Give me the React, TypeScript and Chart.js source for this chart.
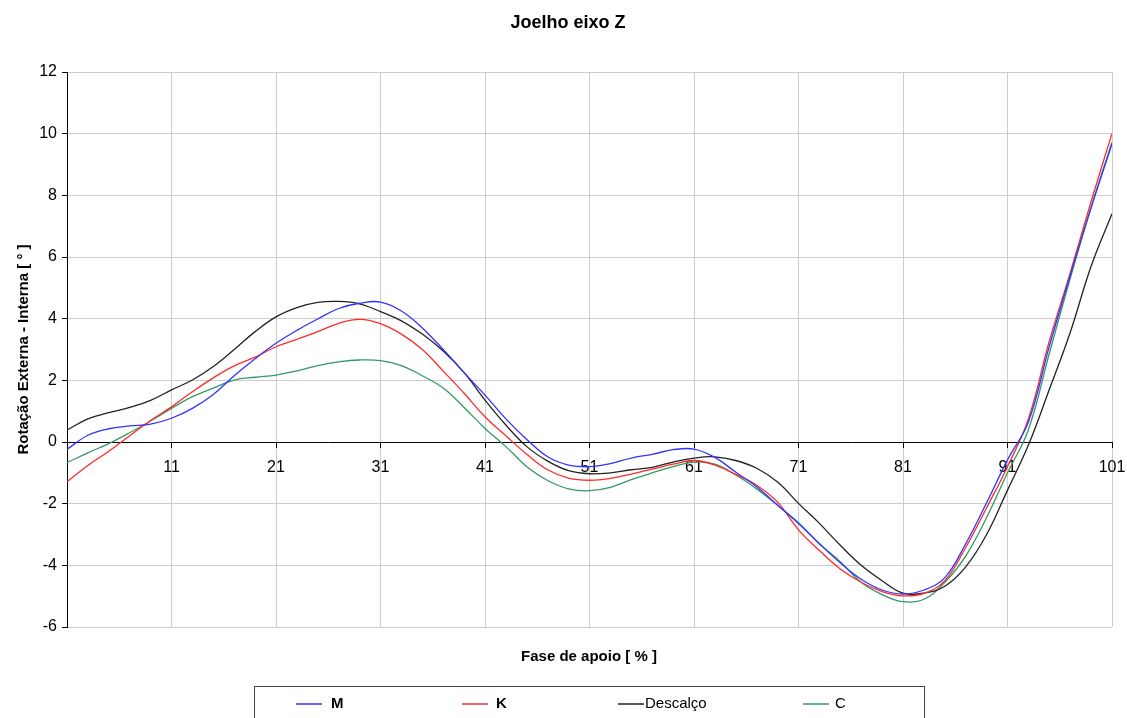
import React, { useEffect, useRef } from "react";
import { Chart, registerables } from "chart.js";

Chart.register(...registerables);

const xs = [1, 3, 5, 7, 9, 11, 13, 15, 17, 19, 21, 23, 25, 27, 29, 31, 33, 35, 37, 39, 41, 43, 45, 47, 49, 51, 53, 55, 57, 59, 61, 63, 65, 67, 69, 71, 73, 75, 77, 79, 81, 83, 85, 87, 89, 91, 93, 95, 97, 99, 101];

const seriesM = [-0.24, 0.22, 0.43, 0.52, 0.58, 0.77, 1.09, 1.54, 2.15, 2.7, 3.2, 3.62, 3.99, 4.33, 4.5, 4.54, 4.25, 3.7, 3.0, 2.25, 1.52, 0.75, 0.08, -0.48, -0.75, -0.8, -0.7, -0.52, -0.4, -0.25, -0.23, -0.5, -0.98, -1.45, -2.05, -2.64, -3.3, -3.92, -4.45, -4.8, -4.93, -4.8, -4.4, -3.3, -1.97, -0.58, 0.65, 3.1, 5.4, 7.6, 9.67];

const seriesK = [-1.29, -0.76, -0.3, 0.2, 0.7, 1.14, 1.63, 2.08, 2.47, 2.75, 3.09, 3.33, 3.58, 3.85, 3.98, 3.84, 3.5, 3.0, 2.3, 1.58, 0.82, 0.2, -0.4, -0.9, -1.17, -1.24, -1.18, -1.04, -0.88, -0.72, -0.6, -0.75, -1.05, -1.4, -1.95, -2.85, -3.52, -4.12, -4.55, -4.85, -4.99, -4.91, -4.5, -3.42, -2.13, -0.8, 0.75, 3.27, 5.48, 7.8, 10.0];

const seriesDescalco = [0.39, 0.75, 0.95, 1.12, 1.35, 1.69, 2.01, 2.45, 3.0, 3.58, 4.06, 4.36, 4.53, 4.56, 4.48, 4.23, 3.93, 3.5, 2.95, 2.25, 1.36, 0.55, -0.15, -0.62, -0.93, -1.03, -1.0, -0.9, -0.82, -0.65, -0.52, -0.48, -0.6, -0.85, -1.3, -1.99, -2.64, -3.35, -4.0, -4.5, -4.9, -4.9, -4.68, -4.05, -3.0, -1.56, -0.1, 1.7, 3.55, 5.7, 7.4];

const seriesC = [-0.67, -0.35, -0.05, 0.3, 0.68, 1.09, 1.47, 1.75, 2.01, 2.1, 2.17, 2.31, 2.48, 2.6, 2.66, 2.64, 2.48, 2.15, 1.75, 1.12, 0.44, -0.15, -0.8, -1.25, -1.52, -1.58, -1.47, -1.22, -1.0, -0.8, -0.65, -0.72, -1.07, -1.52, -2.05, -2.62, -3.3, -3.88, -4.55, -4.95, -5.18, -5.1, -4.55, -3.7, -2.45, -1.0, 0.4, 2.87, 5.3, 7.6, 9.72];

const seriesNames = ["M", "K", "Descalço", "C"];
const seriesColors = ["#3333ff", "#ff2a2a", "#222222", "#339966"];
const seriesValues = [seriesM, seriesK, seriesDescalco, seriesC];

const chartTitle = "Joelho eixo Z";
const xTitle = "Fase de apoio [ % ]";
const yTitle = "Rotação Externa - Interna [ ° ]";

const FONT = "'Liberation Sans', Arial, sans-serif";

const decorPlugin = {
  id: "decor",
  afterDraw(chart: any) {
    const ctx = chart.ctx as CanvasRenderingContext2D;
    const area = chart.chartArea;
    ctx.save();
    ctx.fillStyle = "#000";
    ctx.textAlign = "center";
    ctx.textBaseline = "middle";
    ctx.font = `bold 18px ${FONT}`;
    ctx.fillText(chartTitle, 568, 23);
    ctx.font = `bold 15px ${FONT}`;
    ctx.fillText(xTitle, 589, 657);
    ctx.save();
    ctx.translate(24, (area.top + area.bottom) / 2);
    ctx.rotate(-Math.PI / 2);
    ctx.fillText(yTitle, 0, 0);
    ctx.restore();

    // legend box
    ctx.strokeStyle = "#444";
    ctx.lineWidth = 1;
    ctx.strokeRect(254.5, 686.5, 670, 40);
    const entries = [
      { lx: 296, tx: 331, bold: true },
      { lx: 462, tx: 496, bold: true },
      { lx: 618, tx: 645, bold: false },
      { lx: 803, tx: 835, bold: false },
    ];
    entries.forEach((e, i) => {
      ctx.strokeStyle = seriesColors[i];
      ctx.lineWidth = 1.5;
      ctx.beginPath();
      ctx.moveTo(e.lx, 704);
      ctx.lineTo(e.lx + 26, 704);
      ctx.stroke();
      ctx.fillStyle = "#000";
      ctx.textAlign = "left";
      ctx.font = `${e.bold ? "bold " : ""}15px ${FONT}`;
      ctx.fillText(seriesNames[i], e.tx, 704);
    });
    ctx.restore();
  },
};

export default function App() {
  const canvasRef = useRef<HTMLCanvasElement | null>(null);

  useEffect(() => {
    if (!canvasRef.current) return;
    const datasets = seriesValues.map((vals, i) => ({
      label: seriesNames[i],
      data: xs.map((x, j) => ({ x, y: vals[j] })),
      borderColor: seriesColors[i],
      backgroundColor: seriesColors[i],
      borderWidth: 1.3,
      pointRadius: 0,
      tension: 0.4,
      fill: false,
    }));
    const chart = new Chart(canvasRef.current, {
      type: "line",
      data: { datasets },
      options: {
        animation: false,
        responsive: false,
        maintainAspectRatio: false,
        layout: { padding: { left: 0, top: 72, right: 15, bottom: 91 } },
        plugins: {
          legend: { display: false },
          title: { display: false },
          tooltip: { enabled: false },
        },
        scales: {
          x: {
            type: "linear",
            position: { y: 0 } as any,
            min: 1,
            max: 101,
            ticks: {
              stepSize: 10,
              color: "#000",
              font: { family: FONT, size: 16 },
              padding: 11,
              maxRotation: 0,
              callback: (v: any) => (v === 1 ? "" : String(v)),
            },
            grid: { color: "#cccccc", lineWidth: 1, tickColor: "#000", tickLength: 5 },
            border: { color: "#000", width: 1 },
            afterFit: (scale: any) => {
              scale.paddingLeft = 0;
              scale.paddingRight = 0;
            },
          },
          y: {
            type: "linear",
            min: -6,
            max: 12,
            ticks: {
              stepSize: 2,
              color: "#000",
              font: { family: FONT, size: 16 },
              padding: 5,
            },
            grid: { color: "#cccccc", lineWidth: 1, tickColor: "#000", tickLength: 5 },
            border: { color: "#000", width: 1 },
            afterFit: (scale: any) => {
              scale.width = 67;
            },
          },
        },
      },
      plugins: [decorPlugin],
    });
    return () => chart.destroy();
  }, []);

  return (
    <div style={{ position: "fixed", left: 0, top: 0, width: 1127, height: 718, background: "#fff" }}>
      <canvas ref={canvasRef} width={1127} height={718} style={{ width: 1127, height: 718, display: "block" }} />
    </div>
  );
}
